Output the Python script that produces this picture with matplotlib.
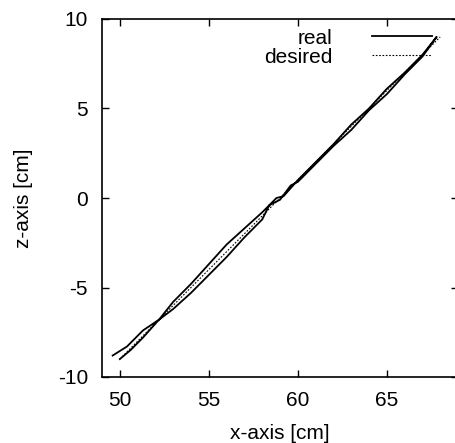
import matplotlib
matplotlib.use("Agg")
import matplotlib.pyplot as plt

plt.rcParams['font.family'] = ['Liberation Sans', 'DejaVu Sans']
plt.rcParams['axes.unicode_minus'] = False

# commanded straight-line trajectory
desired_x = [50.0, 68.0]
desired_z = [-9.0, 9.0]

# measured end-effector path: out along one side, back along the other
real_x = [49.6, 50.4, 51.3, 52.2, 53.0, 54.0, 55.0, 56.0, 57.0, 58.0, 58.8, 59.2,
          60.0, 61.0, 62.0, 63.0, 64.0, 65.0, 66.0, 67.0, 67.8,
          67.0, 66.0, 65.0, 64.0, 63.0, 62.0, 61.0, 60.0, 59.6, 59.0, 58.4,
          58.0, 57.0, 56.0, 55.0, 54.0, 53.0, 52.2, 51.3, 50.6, 50.0]
real_z = [-8.8, -8.3, -7.4, -6.8, -5.8, -4.8, -3.7, -2.6, -1.7, -0.8, 0.0, 0.1,
          1.0, 2.0, 3.0, 4.1, 5.0, 6.1, 7.0, 8.0, 9.0,
          7.9, 6.9, 5.8, 4.9, 3.8, 2.9, 1.9, 0.9, 0.7, -0.1, -0.4,
          -1.2, -2.2, -3.3, -4.3, -5.3, -6.2, -6.8, -7.8, -8.5, -9.0]

xticks = [50, 55, 60, 65]
zticks = [-10, -5, 0, 5, 10]

fig = plt.figure(figsize=(4.56, 4.43), dpi=100)
ax = fig.add_axes([102 / 456, 66 / 443, 356 / 456, 358 / 443])

ax.plot(real_x, real_z, color='black', lw=1.3, label='real')
ax.plot(desired_x, desired_z, color='black', lw=0.8, ls=(0, (1.5, 1.5)), label='desired')

ax.set_xlim(49, 69)
ax.set_ylim(-10, 10)
ax.set_xticks(xticks)
ax.set_yticks(zticks)
ax.tick_params(direction='in', top=True, right=True, length=5, width=1,
               labelsize=15, pad=10)
for s in ax.spines.values():
    s.set_linewidth(1.2)

ax.set_xlabel('x-axis [cm]', fontsize=15, labelpad=10)
ax.set_ylabel('z-axis [cm]', fontsize=15, labelpad=18)

ax.legend(loc='upper right', bbox_to_anchor=(0.975, 1.02), frameon=False,
          markerfirst=False, fontsize=15, handlelength=2.9,
          handletextpad=1.9, labelspacing=0.0, borderpad=0.3)

fig.savefig('out.png', dpi=100)
